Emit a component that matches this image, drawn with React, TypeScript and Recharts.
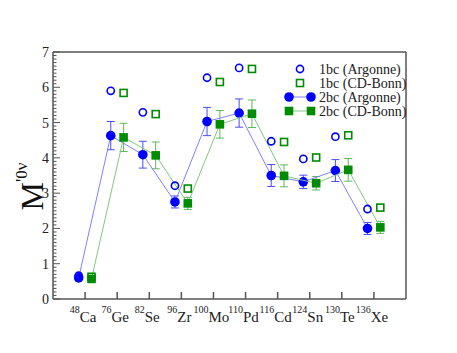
import React from "react";
import { ComposedChart, Scatter, XAxis, YAxis, ErrorBar } from "recharts";

const masses = ["48", "76", "82", "96", "100", "110", "116", "124", "130", "136"];
const elements = ["Ca", "Ge", "Se", "Zr", "Mo", "Pd", "Cd", "Sn", "Te", "Xe"];

const oneArgonne = [0.66, 5.9, 5.29, 3.21, 6.27, 6.55, 4.47, 3.97, 4.6, 2.55];
const oneBonn = [0.63, 5.84, 5.24, 3.13, 6.15, 6.52, 4.45, 4.01, 4.64, 2.59];
const twoArgonne = [0.6, 4.63, 4.09, 2.75, 5.03, 5.27, 3.5, 3.32, 3.64, 2.0];
const twoArgonneErr = [0.06, 0.4, 0.38, 0.17, 0.4, 0.4, 0.31, 0.19, 0.31, 0.17];
const twoBonn = [0.57, 4.58, 4.07, 2.71, 4.95, 5.25, 3.49, 3.28, 3.66, 2.03];
const twoBonnErr = [0.05, 0.4, 0.38, 0.17, 0.39, 0.39, 0.31, 0.19, 0.32, 0.17];

const seriesNames = ["1bc (Argonne)", "1bc (CD-Bonn)", "2bc (Argonne)", "2bc (CD-Bonn)"];

const xTicks = [1, 2, 3, 4, 5, 6, 7, 8, 9, 10];
const yTicks = Array.from({ length: 71 }, (_, i) => i / 10);

const BLUE = "#0000ff";
const GREEN = "#008b00";
const AXIS = "#555555";
const serif = { fontFamily: '"Liberation Serif", "Times New Roman", "DejaVu Serif", serif' };

// shift argonne points left, cd-bonn right of the nucleus tick
const build = (vals: number[], shift: number, errs?: number[]) =>
  vals.map((v, i) => ({ x: i + 1 + shift, y: v, err: errs ? errs[i] : 0 }));

const OpenCircle = (p: any) => (
  <circle cx={p.cx} cy={p.cy} r={3.6} fill="none" stroke={BLUE} strokeWidth={1.6} />
);
const OpenSquare = (p: any) => (
  <rect x={p.cx - 3.5} y={p.cy - 3.5} width={7} height={7} fill="none" stroke={GREEN} strokeWidth={1.6} />
);
const FullCircle = (p: any) => <circle cx={p.cx} cy={p.cy} r={4.8} fill={BLUE} />;
const FullSquare = (p: any) => (
  <rect x={p.cx - 4.3} y={p.cy - 4.3} width={8.6} height={8.6} fill={GREEN} />
);

const LeftTick = (props: any) => {
  const { x, y, payload } = props;
  const v = payload.value;
  const major = Math.abs(v - Math.round(v)) < 1e-6;
  const ax = x + 4;
  return (
    <g>
      <line x1={ax} x2={ax + (major ? 7 : 3.5)} y1={y} y2={y} stroke={AXIS} strokeWidth={1} />
      {major && (
        <text x={x} y={y + 5} textAnchor="end" style={serif} fontSize={14} fill="#222">
          {Math.round(v)}
        </text>
      )}
    </g>
  );
};

const RightTick = (props: any) => {
  const { x, y, payload } = props;
  const v = payload.value;
  const major = Math.abs(v - Math.round(v)) < 1e-6;
  return <line x1={x - (major ? 7 : 3.5)} x2={x} y1={y} y2={y} stroke={AXIS} strokeWidth={1} />;
};

const BottomTick = (props: any) => {
  const { x, y, payload } = props;
  const i = Math.round(payload.value) - 1;
  return (
    <text x={x - 2} y={y + 3} textAnchor="middle" style={serif} fill="#222">
      <tspan fontSize={10} dy={-9}>{masses[i]}</tspan>
      <tspan fontSize={15} dy={9}>{elements[i]}</tspan>
    </text>
  );
};

const YLabel = (props: any) => {
  const vb = props.viewBox;
  const cx = vb.x + 43;
  const cy = vb.y + vb.height / 2 + 11;
  return (
    <text transform={`translate(${cx},${cy}) rotate(-90)`} textAnchor="middle" style={serif} fill="#111">
      <tspan fontSize={32}>M</tspan>
      <tspan fontSize={18} dy={-14}>{"'"}</tspan>
      <tspan fontSize={17} dy={-2}>0ν</tspan>
    </text>
  );
};

const ChartLegend = () => {
  const rows = [9, 23, 37, 51];
  return (
    <svg width={170} height={62} style={{ position: "absolute", left: 284, top: 60 }}>
      <OpenCircle cx={16} cy={rows[0]} />
      <OpenSquare cx={16} cy={rows[1]} />
      <line x1={5} x2={27} y1={rows[2]} y2={rows[2]} stroke="#8080ff" strokeWidth={1} />
      <FullCircle cx={5} cy={rows[2]} />
      <FullCircle cx={27} cy={rows[2]} />
      <line x1={5} x2={27} y1={rows[3]} y2={rows[3]} stroke="#80c880" strokeWidth={1} />
      <FullSquare cx={5} cy={rows[3]} />
      <FullSquare cx={27} cy={rows[3]} />
      {seriesNames.map((n, i) => (
        <text key={n} x={35} y={rows[i] + 4.5} style={serif} fontSize={14} fill="#222">
          {n}
        </text>
      ))}
    </svg>
  );
};

export default function App() {
  return (
    <div style={{ position: "absolute", left: 0, top: 0, width: 457, height: 353 }}>
      <ComposedChart width={457} height={353} margin={{ top: 0, right: 0, bottom: 0, left: 0 }}>
        <XAxis
          type="number"
          dataKey="x"
          domain={[0, 11]}
          ticks={xTicks}
          interval={0}
          height={54}
          stroke={AXIS}
          strokeWidth={1.5}
          tickSize={-7}
          tickMargin={27}
          tick={<BottomTick />}
        />
        <XAxis
          xAxisId="top"
          orientation="top"
          type="number"
          dataKey="x"
          domain={[0, 11]}
          ticks={xTicks}
          interval={0}
          height={52}
          stroke={AXIS}
          strokeWidth={1.5}
          tickSize={-7}
          tick={false}
        />
        <YAxis
          type="number"
          dataKey="y"
          domain={[0, 7]}
          ticks={yTicks}
          interval={0}
          width={53}
          stroke={AXIS}
          strokeWidth={1.5}
          tickLine={false}
          tickSize={0}
          tickMargin={4}
          tick={<LeftTick />}
          label={<YLabel />}
        />
        <YAxis
          yAxisId="right"
          orientation="right"
          type="number"
          dataKey="y"
          domain={[0, 7]}
          ticks={yTicks}
          interval={0}
          width={51}
          stroke={AXIS}
          strokeWidth={1.5}
          tickLine={false}
          tickSize={0}
          tickMargin={0}
          tick={<RightTick />}
        />
        <Scatter
          name={seriesNames[2]}
          data={build(twoArgonne, -0.2, twoArgonneErr)}
          dataKey="y"
          line={{ stroke: "#8080ff", strokeWidth: 1 }}
          shape={FullCircle}
          isAnimationActive={false}
        >
          <ErrorBar dataKey="err" direction="y" width={4} stroke="#4a4aff" strokeWidth={1} isAnimationActive={false} />
        </Scatter>
        <Scatter
          name={seriesNames[3]}
          data={build(twoBonn, 0.2, twoBonnErr)}
          dataKey="y"
          line={{ stroke: "#80c880", strokeWidth: 1 }}
          shape={FullSquare}
          isAnimationActive={false}
        >
          <ErrorBar dataKey="err" direction="y" width={4} stroke="#5cb85c" strokeWidth={1} isAnimationActive={false} />
        </Scatter>
        <Scatter
          name={seriesNames[0]}
          data={build(oneArgonne, -0.2)}
          dataKey="y"
          shape={OpenCircle}
          isAnimationActive={false}
        />
        <Scatter
          name={seriesNames[1]}
          data={build(oneBonn, 0.2)}
          dataKey="y"
          shape={OpenSquare}
          isAnimationActive={false}
        />
      </ComposedChart>
      <ChartLegend />
    </div>
  );
}
